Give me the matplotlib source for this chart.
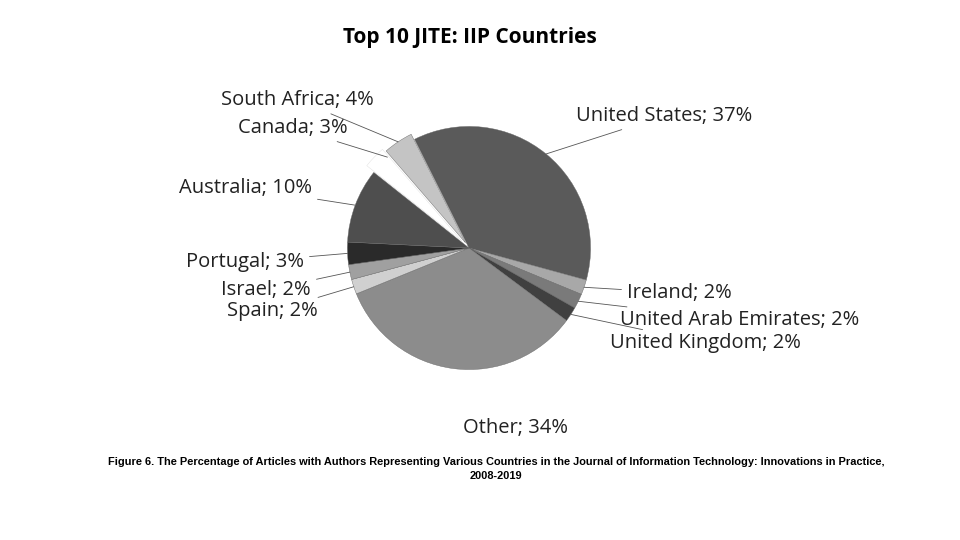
import matplotlib
matplotlib.use("Agg")
import matplotlib.pyplot as plt
import numpy as np

labels = ["United States", "Ireland", "United Arab Emirates", "United Kingdom", "Other",
          "Spain", "Israel", "Portugal", "Australia", "Canada", "South Africa"]
values = [37, 2, 2, 2, 34, 2, 2, 3, 10, 3, 4]
colors = ["#5a5a5a", "#a8a8a8", "#7a7a7a", "#404040", "#8c8c8c",
          "#d0d0d0", "#a0a0a0", "#2a2a2a", "#4e4e4e", "#ffffff", "#c4c4c4"]
explode = [0, 0, 0, 0, 0, 0, 0, 0, 0, 0.08, 0.05]

W, H = 960, 540
fig = plt.figure(figsize=(9.6, 5.4), dpi=100)
cx, cy, r = 469, 248, 124
ax = fig.add_axes([(cx - r) / W, (H - cy - r) / H, 2 * r / W, 2 * r / H])
wedges, _ = ax.pie(values, colors=colors, startangle=116.6, counterclock=False,
                   explode=explode, radius=1,
                   wedgeprops=dict(linewidth=0.3, edgecolor="#666666"))
wedges[9].set_edgecolor("#dddddd")
ax.set_xlim(-1.02, 1.02); ax.set_ylim(-1.02, 1.02); ax.set_aspect("equal")
ax.axis("off")

pos = {
    "United States": (576, 116, "left"),
    "Ireland": (627, 293, "left"),
    "United Arab Emirates": (620, 320, "left"),
    "United Kingdom": (610, 343, "left"),
    "Other": (463, 428, "left"),
    "Spain": (318, 311, "right"),
    "Israel": (311, 290, "right"),
    "Portugal": (304, 262, "right"),
    "Australia": (312, 188, "right"),
    "Canada": (348, 128, "right"),
    "South Africa": (374, 100, "right"),
}
for w, lab, v in zip(wedges, labels, values):
    x, y, ha = pos[lab]
    ang = np.deg2rad((w.theta1 + w.theta2) / 2)
    ex = w.center[0] + np.cos(ang) * (w.r if lab != "Canada" else 0.85)
    ey = w.center[1] + np.sin(ang) * w.r
    props = None if lab == "Other" else dict(arrowstyle="-", color="#555555", lw=0.6,
                                             shrinkA=2, shrinkB=0)
    ax.annotate(f"{lab}; {v}%", xy=(ex, ey), xycoords="data",
                xytext=(x / W, 1 - y / H), textcoords="figure fraction",
                ha=ha, va="center", fontsize=14.5, family="Open Sans", color="#222222",
                arrowprops=props, annotation_clip=False)

fig.text(470 / W, 1 - 37 / H, "Top 10 JITE: IIP Countries", ha="center", va="center",
         fontsize=15, fontweight="bold", family="Open Sans")
fig.text(496 / W, 1 - 462 / H,
         "Figure 6. The Percentage of Articles with Authors Representing Various Countries in the Journal of Information Technology: Innovations in Practice,",
         ha="center", va="center", fontsize=7.9, fontweight="bold", family="Liberation Sans")
fig.text(496 / W, 1 - 476 / H, "2008-2019", ha="center", va="center",
         fontsize=7.9, fontweight="bold", family="Liberation Sans")
fig.savefig("out.png", dpi=100)
